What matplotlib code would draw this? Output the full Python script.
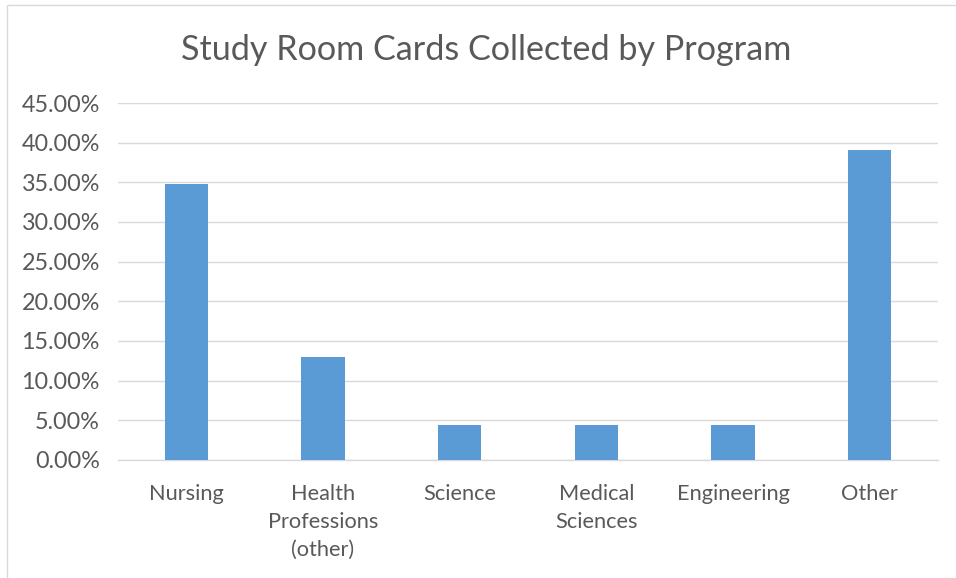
import matplotlib
matplotlib.use("Agg")
import matplotlib.pyplot as plt
from matplotlib.patches import Rectangle
from matplotlib.ticker import FuncFormatter, MultipleLocator

categories = ["Nursing", "Health\nProfessions\n(other)", "Science", "Medical\nSciences", "Engineering", "Other"]
values = [0.3478, 0.1304, 0.0435, 0.0435, 0.0435, 0.3913]

plt.rcParams['font.family'] = ['Lato', 'DejaVu Sans']
W, H = 956, 578
fig = plt.figure(figsize=(W/100, H/100), dpi=100)
fig.patch.set_facecolor("white")

# chart area border
fig.add_artist(Rectangle((7/W, -0.01), 1.2, 1 - 5/H + 0.01, transform=fig.transFigure,
                         fill=False, edgecolor="#D9D9D9", linewidth=1.0))

ax = fig.add_axes([118/W, 1 - 460/H, (938-118)/W, (460-103)/H])
x = list(range(len(categories)))
ax.bar(x, values, width=0.315, color="#5B9BD5", zorder=3)
ax.set_xlim(-0.5, len(categories) - 0.5)
ax.set_ylim(0, 0.45)
ax.yaxis.set_major_locator(MultipleLocator(0.05))
ax.yaxis.set_major_formatter(FuncFormatter(lambda v, p: f"{v*100:.2f}%"))
ax.grid(axis="y", color="#D9D9D9", linewidth=1.0, zorder=0)
for s in ["top", "right", "left"]:
    ax.spines[s].set_visible(False)
ax.spines["bottom"].set_color("#D9D9D9")
ax.spines["bottom"].set_linewidth(1.0)
ax.set_xticks(x)
ax.set_xticklabels(categories, linespacing=1.5, va="top")
ax.tick_params(axis="x", length=0, colors="#595959", labelsize=15.7, pad=17)
ax.tick_params(axis="y", length=0, colors="#595959", labelsize=16.8, pad=13)

fig.text(486/W, 1 - 50/H, "Study Room Cards Collected by Program", ha="center", va="center",
         fontsize=24.6, color="#595959")

fig.savefig("out.png", dpi=100)
